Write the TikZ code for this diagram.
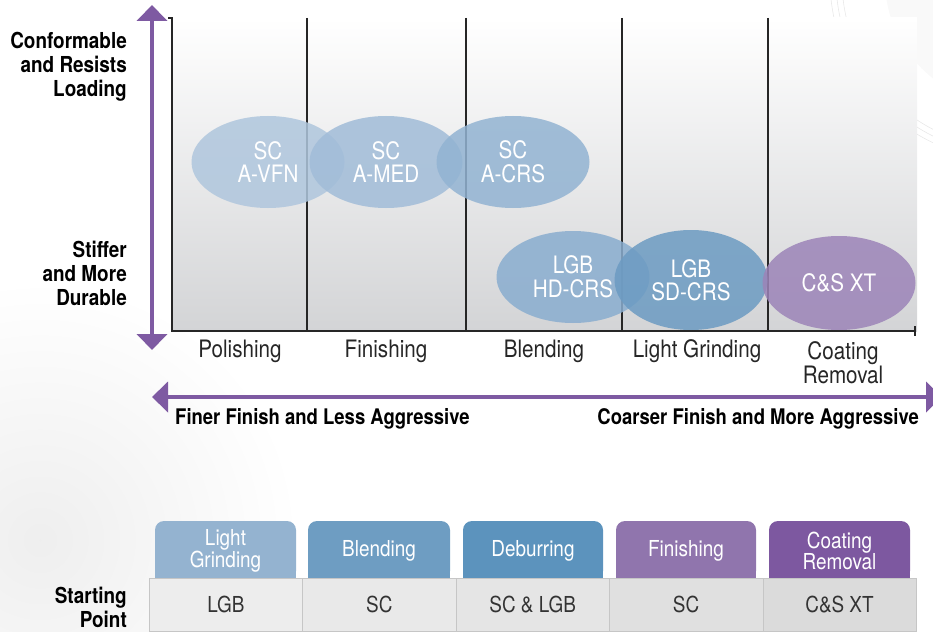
\documentclass[tikz,border=0pt]{standalone}
\usepackage{fontspec}
\setmainfont{TeX Gyre Heros}[FakeStretch=0.86]
\usetikzlibrary{arrows.meta,shapes.geometric}

\definecolor{axispurple}{HTML}{7E5AA2}
\definecolor{vfnblue}{HTML}{AFC6DD}
\definecolor{medblue}{HTML}{A1BCD8}
\definecolor{crsblue}{HTML}{92B3D2}
\definecolor{hdblue}{HTML}{89ADCF}
\definecolor{sdblue}{HTML}{6C9BC2}
\definecolor{xtpurple}{HTML}{9C84B8}
\definecolor{tabA}{HTML}{94B3D0}
\definecolor{tabB}{HTML}{6E9DC2}
\definecolor{tabC}{HTML}{5C93BD}
\definecolor{tabD}{HTML}{9075AD}
\definecolor{tabE}{HTML}{7D58A0}
\definecolor{plotgray}{HTML}{D3D4D6}

\begin{document}
\begin{tikzpicture}[x=1pt,y=-1pt,
    grit/.style={ellipse, minimum width=153pt, minimum height=92pt, inner sep=0pt,
      fill opacity=0.85, text opacity=1, text=white, align=center,
      font=\fontsize{24}{23.5}\selectfont},
    sidelabel/.style={anchor=east, align=right, inner sep=0pt,
      font=\bfseries\fontsize{22}{24}\selectfont},
    task/.style={align=center, inner sep=0pt, text=black!85,
      font=\fontsize{24}{24}\selectfont},
    bigarrow/.style={line width=4.5pt, axispurple,
      {Triangle[width=30pt,length=16pt]}-{Triangle[width=30pt,length=16pt]}},
    tabtext/.style={align=center, inner sep=0pt, text=white,
      font=\fontsize{22}{21.5}\selectfont},
    cell/.style={minimum width=153.4pt, minimum height=53pt, inner sep=0pt,
      anchor=north west, draw=gray!45, text=black!80,
      font=\fontsize{22}{24}\selectfont}]
  \useasboundingbox (0,0) rectangle (933,631);

  % Background
  \shade[inner color=gray!13, outer color=white] (40,540) circle (260);
  \fill[gray!5] (1010,-20) circle (125);
  \draw[gray!18, line width=0.6pt] (1010,-20) circle (168) circle (174) circle (180);

  % Plot area
  \shade[top color=white, middle color=gray!6, bottom color=plotgray] (172,18) rectangle (917,331);
  \draw[black!85, line width=1.4pt] (168,18) -- (172,18) -- (172,331) -- (915,331);
  \draw[black!85, line width=1.4pt] (915,326) -- (915,336);
  \draw[black!85, line width=1.4pt] (307,18) -- (307,331);
  \draw[black!85, line width=1.4pt] (466,18) -- (466,331);
  \draw[black!85, line width=1.4pt] (622,18) -- (622,331);
  \draw[black!85, line width=1.4pt] (768,18) -- (768,331);

  % Vertical axis
  \coordinate (vtop) at (152,5);
  \coordinate (vbot) at (152,350);
  \draw[bigarrow] (vtop) -- (vbot);
  \node[sidelabel] (conform) at (127,67) {Conformable\\and Resists\\Loading};
  \node[sidelabel] (stiff) at (127,273) {Stiffer\\and More\\Durable};

  % Grits
  \node[grit, fill=vfnblue] (avfn) at (268,162) {SC\\A-VFN};
  \node[grit, fill=medblue] (amed) at (386,162) {SC\\A-MED};
  \node[grit, fill=crsblue] (acrs) at (513,162) {SC\\A-CRS};
  \node[grit, fill=hdblue] (hdcrs) at (573,277) {LGB\\HD-CRS};
  \node[grit, fill=sdblue, minimum height=100pt] (sdcrs) at (691,280) {LGB\\SD-CRS};
  \node[grit, fill=xtpurple, minimum height=94pt] (csxt) at (839,283) {C\&S XT};

  % Applications
  \node[task] (polish) at (240,351) {Polishing};
  \node[task] (finish) at (386,351) {Finishing};
  \node[task] (blend) at (544,351) {Blending};
  \node[task] (lgrind) at (697,351) {Light Grinding};
  \node[task] (coat) at (843,363) {Coating\\Removal};

  % Horizontal axis
  \coordinate (hleft) at (152,397);
  \coordinate (hright) at (942,397);
  \draw[bigarrow] (hleft) -- (hright);
  \node[anchor=west, inner sep=0pt, font=\bfseries\fontsize{21.5}{22}\selectfont] (finer) at (175,419) {Finer Finish and Less Aggressive};
  \node[anchor=east, inner sep=0pt, font=\bfseries\fontsize{21.5}{22}\selectfont] (coarser) at (919,419) {Coarser Finish and More Aggressive};

  % Tabs
  \fill[tabA, rounded corners=9pt] (155,521) rectangle (296,580);
  \fill[tabA] (155,550) rectangle (296,580);
  \node[tabtext] (tablg) at (225.5,551) {Light\\Grinding};
  \fill[tabB, rounded corners=9pt] (308,521) rectangle (450,580);
  \fill[tabB] (308,550) rectangle (450,580);
  \node[tabtext] (tabbl) at (379,551) {Blending};
  \fill[tabC, rounded corners=9pt] (463,521) rectangle (603,580);
  \fill[tabC] (463,550) rectangle (603,580);
  \node[tabtext] (tabdb) at (533,551) {Deburring};
  \fill[tabD, rounded corners=9pt] (616,521) rectangle (756,580);
  \fill[tabD] (616,550) rectangle (756,580);
  \node[tabtext] (tabfi) at (686,551) {Finishing};
  \fill[tabE, rounded corners=9pt] (769,521) rectangle (910,580);
  \fill[tabE] (769,550) rectangle (910,580);
  \node[tabtext] (tabcr) at (839.5,551) {Coating\\Removal};

  % Starting point row
  \node[sidelabel] (start) at (127,607) {Starting\\Point};
  \node[cell, fill=gray!14] (c1) at (149,578) {LGB};
  \node[cell, fill=gray!17] (c2) at (302.4,578) {SC};
  \node[cell, fill=gray!20] (c3) at (455.8,578) {SC \& LGB};
  \node[cell, fill=gray!24] (c4) at (609.2,578) {SC};
  \node[cell, fill=gray!28] (c5) at (762.6,578) {C\&S XT};
\end{tikzpicture}
\end{document}
